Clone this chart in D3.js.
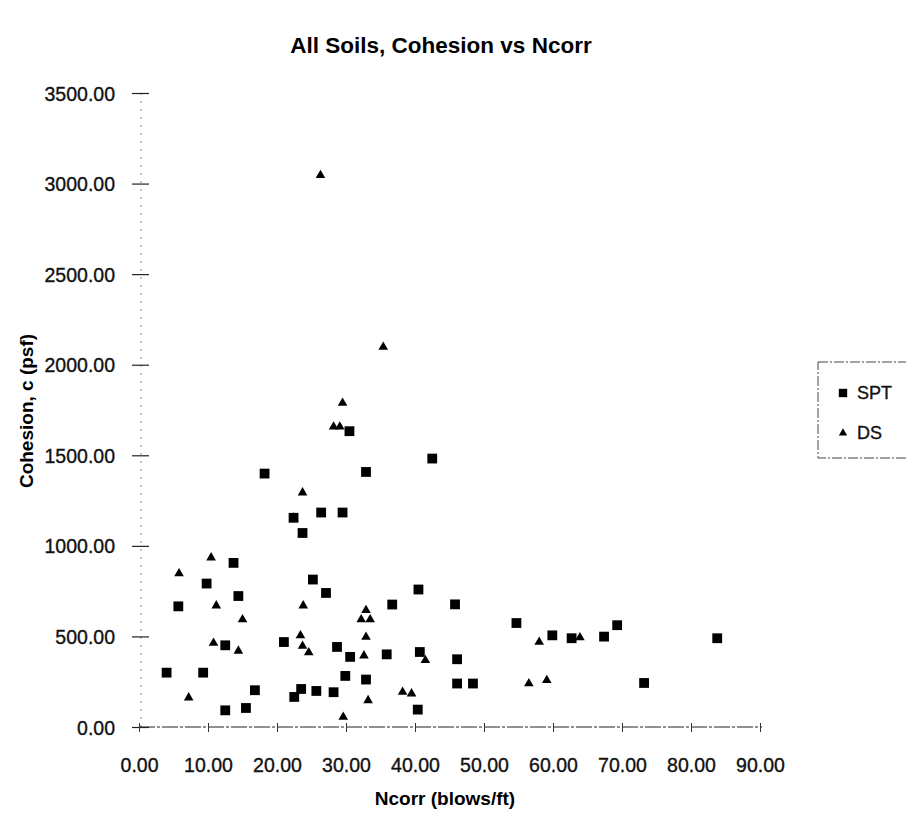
<!DOCTYPE html>
<html>
<head>
<meta charset="utf-8">
<script src="https://cdn.jsdelivr.net/npm/d3@7"></script>
<style>
  html, body { margin: 0; padding: 0; background: #fff; }
  svg { display: block; font-family: "Liberation Sans", Arial, sans-serif; }
</style>
</head>
<body>
<svg id="chart" width="906" height="813"></svg>
<script>
// SPT series: corrected blow count vs cohesion
const sptNcorr = [22.4, 26.4, 29.5, 23.7, 13.7, 9.8, 14.4, 5.7, 25.2, 27.1, 40.5, 36.7,
  12.5, 21.0, 28.7, 30.6, 35.9, 40.7, 4.0, 9.3, 29.9, 32.9, 16.8, 23.5, 22.5, 25.7, 28.2,
  12.5, 15.5, 40.4, 30.5, 42.5, 32.9, 18.2, 45.8, 54.7, 59.9, 62.7, 67.4, 69.3, 83.8,
  46.1, 46.1, 48.4, 73.2];
const sptCohesion = [1155, 1184, 1184, 1071, 906, 792, 723, 666, 814, 740, 759, 676,
  451, 469, 442, 387, 401, 414, 300, 300, 282, 262, 203, 210, 166, 199, 192,
  92, 105, 96, 1633, 1482, 1408, 1399, 677, 574, 506, 490, 499, 562, 490,
  374, 240, 240, 243];

// DS series
const dsNcorr = [22.4, 10.45, 5.8, 11.2, 23.8, 15.0, 32.9, 32.2, 33.5, 10.8, 14.4, 23.4,
  23.7, 24.6, 32.9, 32.6, 41.5, 7.2, 33.2, 38.2, 39.5, 29.6, 35.4, 29.5, 28.2, 29.1,
  23.7, 26.3, 58.0, 63.9, 56.5, 59.1];
const dsCohesion = [1155, 935, 847, 670, 670, 593, 644, 593, 593, 464, 420, 505,
  447, 411, 497, 394, 368, 162, 147, 193, 184, 55, 2098, 1789, 1657, 1657,
  1294, 3046, 469, 494, 240, 258];

const xTicks = [0, 10, 20, 30, 40, 50, 60, 70, 80, 90];
const yTicks = [0, 500, 1000, 1500, 2000, 2500, 3000, 3500];
const seriesNames = ["SPT", "DS"];

const svg = d3.select("#chart");
const x = d3.scaleLinear().domain([0, 90]).range([139, 760]);
const y = d3.scaleLinear().domain([0, 3500]).range([727, 93]);
const fmt = d3.format(".2f");
const tickFont = 19.5;

// title
svg.append("text")
  .attr("x", 441).attr("y", 53)
  .attr("text-anchor", "middle")
  .attr("font-size", 22.5).attr("font-weight", "bold")
  .text("All Soils, Cohesion vs Ncorr");

// y axis line (faint dotted) and crossing ticks
svg.append("line")
  .attr("x1", x(0) + 2).attr("x2", x(0) + 2)
  .attr("y1", y(3500)).attr("y2", y(0))
  .attr("stroke", "#888").attr("stroke-width", 1)
  .attr("stroke-dasharray", "2,6");

const yAxis = d3.axisLeft(y).tickValues(yTicks).tickFormat(fmt).tickSize(0);
const yg = svg.append("g").attr("transform", `translate(${x(0) + 2},0)`).call(yAxis);
yg.select(".domain").remove();
yg.selectAll(".tick line")
  .attr("x1", -9).attr("x2", 8)
  .attr("stroke", "#222").attr("stroke-width", 1.2);
yg.selectAll(".tick text")
  .attr("x", -26).attr("dy", "0.36em")
  .attr("font-size", tickFont)
  .attr("font-family", "Liberation Sans, Arial, sans-serif")
  .attr("fill", "#111").attr("stroke", "#111").attr("stroke-width", 0.35);

// x axis line (dashed) and ticks
svg.append("line")
  .attr("x1", x(0)).attr("x2", x(90) + 2)
  .attr("y1", y(0)).attr("y2", y(0))
  .attr("stroke", "#222").attr("stroke-width", 1.2)
  .attr("stroke-dasharray", "16,2,3,2");

const xAxis = d3.axisBottom(x).tickValues(xTicks).tickFormat(fmt).tickSize(0);
const xg = svg.append("g").attr("transform", `translate(0,${y(0)})`).call(xAxis);
xg.select(".domain").remove();
xg.selectAll(".tick line")
  .attr("y1", -4).attr("y2", 5)
  .attr("stroke", "#333").attr("stroke-width", 1);
xg.selectAll(".tick text")
  .attr("y", 45).attr("dy", 0)
  .attr("font-size", tickFont)
  .attr("font-family", "Liberation Sans, Arial, sans-serif")
  .attr("fill", "#111").attr("stroke", "#111").attr("stroke-width", 0.35);

// axis titles
svg.append("text")
  .attr("x", 445).attr("y", 805)
  .attr("text-anchor", "middle")
  .attr("font-size", 19).attr("font-weight", "bold")
  .text("Ncorr (blows/ft)");

svg.append("text")
  .attr("transform", "translate(33,411) rotate(-90)")
  .attr("text-anchor", "middle")
  .attr("font-size", 19).attr("font-weight", "bold")
  .text("Cohesion, c (psf)");

// markers
const square = d3.symbol().type(d3.symbolSquare).size(96);
const triangle = d3.symbol().type(d3.symbolTriangle).size(40);

const spt = sptNcorr.map((n, i) => ({ n, c: sptCohesion[i] }));
const ds = dsNcorr.map((n, i) => ({ n, c: dsCohesion[i] }));

svg.append("g").selectAll("path").data(spt).join("path")
  .attr("d", square)
  .attr("transform", d => `translate(${x(d.n)},${y(d.c)})`)
  .attr("fill", "#000");

svg.append("g").selectAll("path").data(ds).join("path")
  .attr("d", triangle)
  .attr("transform", d => `translate(${x(d.n)},${y(d.c)})`)
  .attr("fill", "#000");

// legend
const lg = svg.append("g");
lg.append("rect")
  .attr("x", 818).attr("y", 362).attr("width", 100).attr("height", 96)
  .attr("fill", "#fff").attr("stroke", "#444").attr("stroke-width", 1)
  .attr("stroke-dasharray", "10,2,2,2");
const legendSymbols = [
  d3.symbol().type(d3.symbolSquare).size(70),
  d3.symbol().type(d3.symbolTriangle).size(30)
];
seriesNames.forEach((name, i) => {
  const cy = 393 + i * 40;
  lg.append("path")
    .attr("d", legendSymbols[i]())
    .attr("transform", `translate(843,${cy})`)
    .attr("fill", "#000");
  lg.append("text")
    .attr("x", 857).attr("y", cy).attr("dy", "0.36em")
    .attr("font-size", 18)
    .attr("fill", "#111").attr("stroke", "#111").attr("stroke-width", 0.35)
    .text(name);
});
</script>
</body>
</html>
